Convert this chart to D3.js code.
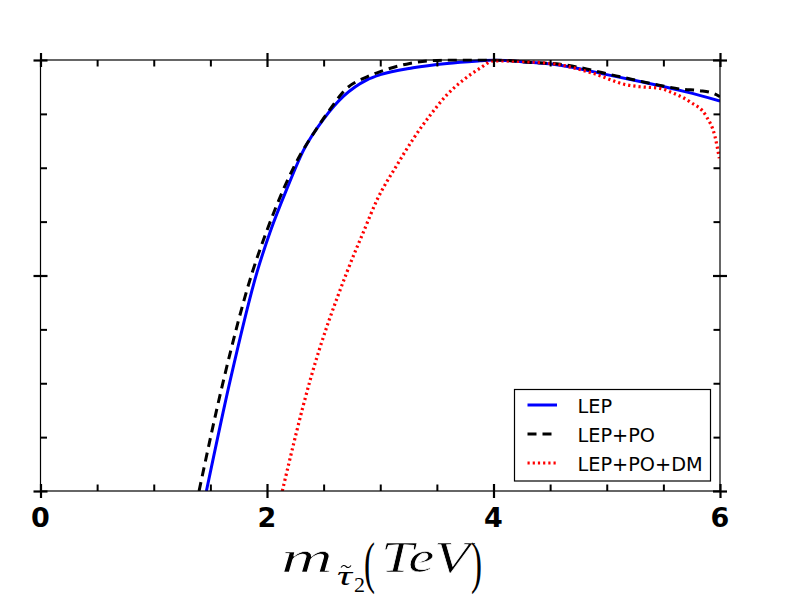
<!DOCTYPE html>
<html>
<head>
<meta charset="utf-8">
<script src="https://cdn.jsdelivr.net/npm/d3@7"></script>
<style>
  html, body { margin: 0; padding: 0; background: #fff; }
  svg { display: block; }
</style>
</head>
<body>
<svg id="chart" width="800" height="600"></svg>
<script>
// ---- data ----
const lepX = [1.465, 1.676, 1.912, 2.029, 2.177, 2.323, 2.5, 2.676, 2.883, 3.0, 3.29, 3.59, 3.88, 4.0, 4.3, 4.588, 5.0, 5.294, 5.7, 6.0];
const lepY = [0.0, 0.258, 0.508, 0.602, 0.702, 0.791, 0.863, 0.916, 0.954, 0.966, 0.982, 0.992, 0.998, 1.0, 0.995, 0.988, 0.966, 0.950, 0.926, 0.905];

const lepPoX = [1.40, 1.617, 1.871, 2.0, 2.294, 2.412, 2.585, 2.676, 2.883, 3.0, 3.26, 3.5, 3.7, 4.0, 4.3, 4.59, 5.12, 5.4, 5.67, 5.82, 5.94, 6.0];
const lepPoY = [0.0, 0.258, 0.508, 0.605, 0.78, 0.830, 0.896, 0.927, 0.961, 0.973, 0.992, 0.999, 1.0, 1.0, 0.995, 0.99, 0.961, 0.945, 0.932, 0.929, 0.923, 0.915];

const lepPoDmX = [2.135, 2.382, 2.706, 2.853, 2.971, 3.147, 3.294, 3.441, 3.588, 3.735, 3.882, 4.0, 4.5, 4.88, 5.18, 5.294, 5.47, 5.588, 5.735, 5.882, 5.956, 5.994];
const lepPoDmY = [0.0, 0.258, 0.508, 0.602, 0.675, 0.756, 0.818, 0.872, 0.919, 0.954, 0.981, 0.998, 0.992, 0.969, 0.942, 0.938, 0.934, 0.923, 0.903, 0.868, 0.822, 0.772];

const seriesNames = ["LEP", "LEP+PO", "LEP+PO+DM"];
const xTickLabels = [0, 2, 4, 6];
const yMajorTicks = [0, 0.5, 1];

// ---- layout ----
const svg = d3.select("#chart");
const pLeft = 40.5, pRight = 720, pTop = 60, pBottom = 491;

const x = d3.scaleLinear().domain([0, 6]).range([pLeft, pRight]);
const y = d3.scaleLinear().domain([0, 1]).range([pBottom, pTop]);

const xMinor = d3.range(0, 6.01, 0.5).filter(v => Math.abs(v % 2) > 1e-9);
const yMinor = d3.range(0, 1.001, 0.125).filter(v => !yMajorTicks.some(m => Math.abs(m - v) < 1e-9));

// clip
svg.append("defs").append("clipPath").attr("id", "clip")
  .append("rect").attr("x", pLeft).attr("y", pTop - 1.5)
  .attr("width", pRight - pLeft).attr("height", pBottom - pTop + 1.5);

// curves
const styles = [
  { color: "#0000ff", dash: null, width: 3 },
  { color: "#000000", dash: "9,6", width: 3 },
  { color: "#ff0000", dash: "2.2,3", width: 3.2 }
];
const datasets = [
  d3.zip(lepX, lepY),
  d3.zip(lepPoX, lepPoY),
  d3.zip(lepPoDmX, lepPoDmY)
];

const line = d3.line()
  .x(d => x(d[0]))
  .y(d => y(d[1]))
  .curve(d3.curveMonotoneX);

const g = svg.append("g").attr("clip-path", "url(#clip)");
datasets.forEach((data, i) => {
  g.append("path")
    .datum(data)
    .attr("fill", "none")
    .attr("stroke", styles[i].color)
    .attr("stroke-width", styles[i].width)
    .attr("stroke-dasharray", styles[i].dash)
    .attr("d", line);
});

// frame
svg.append("rect")
  .attr("x", pLeft).attr("y", pTop)
  .attr("width", pRight - pLeft).attr("height", pBottom - pTop)
  .attr("fill", "none").attr("stroke", "#000").attr("stroke-width", 1.2);

// ticks via d3 axis generators
function tickAxis(axisGen, transform, tickVals, inner, width) {
  const ax = svg.append("g").attr("transform", transform)
    .call(axisGen.tickValues(tickVals).tickSizeInner(inner).tickSizeOuter(0).tickFormat(""));
  ax.select(".domain").remove();
  ax.selectAll(".tick line").attr("stroke", "#000").attr("stroke-width", width);
  return ax;
}
const maj = 7, minr = 6.5;
// bottom
tickAxis(d3.axisBottom(x), `translate(0,${pBottom - maj})`, xTickLabels, 2 * maj, 2.2);
tickAxis(d3.axisTop(x), `translate(0,${pBottom})`, xMinor, minr, 2);
// top
tickAxis(d3.axisBottom(x), `translate(0,${pTop - maj})`, xTickLabels, 2 * maj, 2.2);
tickAxis(d3.axisBottom(x), `translate(0,${pTop})`, xMinor, minr, 2);
// left
tickAxis(d3.axisRight(y), `translate(${pLeft - maj},0)`, yMajorTicks, 2 * maj, 2.2);
tickAxis(d3.axisRight(y), `translate(${pLeft},0)`, yMinor, minr, 2);
// right
tickAxis(d3.axisRight(y), `translate(${pRight - maj},0)`, yMajorTicks, 2 * maj, 2.2);
tickAxis(d3.axisLeft(y), `translate(${pRight},0)`, yMinor, minr, 2);

// x tick labels
svg.append("g").selectAll("text").data(xTickLabels).join("text")
  .attr("x", d => x(d)).attr("y", 526.5)
  .attr("text-anchor", "middle")
  .attr("font-family", "DejaVu Sans")
  .attr("font-weight", "bold")
  .attr("font-size", 27)
  .text(d => d);

// x axis label: m_{\tilde\tau_2}(TeV) as one text with positioned pieces
const lab = svg.append("text").attr("font-family", "Liberation Serif").attr("fill", "#000");
function piece(txt, px, py, size, width, italic, thin) {
  const t = lab.append("tspan").attr("x", px).attr("y", py).attr("font-size", size)
    .attr("font-style", italic ? "italic" : "normal").text(txt);
  if (width) t.attr("textLength", width).attr("lengthAdjust", "spacingAndGlyphs");
  if (thin) t.attr("stroke", "#fff").attr("stroke-width", thin);
  return t;
}
piece("m", 281, 572, 44, 52, true, 0.7);
piece("τ", 337, 585, 27, 15, true);
piece("2", 354, 592, 22, 11, false);
piece("(", 364, 582, 58, 11, false);
piece("TeV", 381, 572, 44, 89, true, 0.6);
piece(")", 471, 582, 58, 11, false);
// tilde accent over tau
svg.append("path")
  .attr("d", "M341,567.5 q2.5,-3.5 5,-1 t5,-1")
  .attr("fill", "none").attr("stroke", "#000").attr("stroke-width", 1.1);

// legend
const lg = svg.append("g");
lg.append("rect").attr("x", 514.5).attr("y", 389.5).attr("width", 196).attr("height", 91.5)
  .attr("fill", "#fff").attr("stroke", "#000").attr("stroke-width", 1.2);
const rowY = [405, 434, 463];
seriesNames.forEach((name, i) => {
  lg.append("line")
    .attr("x1", 527.5).attr("x2", 557).attr("y1", rowY[i]).attr("y2", rowY[i])
    .attr("stroke", styles[i].color).attr("stroke-width", styles[i].width)
    .attr("stroke-dasharray", styles[i].dash);
  lg.append("text")
    .attr("x", 577.5).attr("y", rowY[i] + 7.5)
    .attr("font-family", "DejaVu Sans").attr("font-size", 19.3)
    .text(name);
});
</script>
</body>
</html>
